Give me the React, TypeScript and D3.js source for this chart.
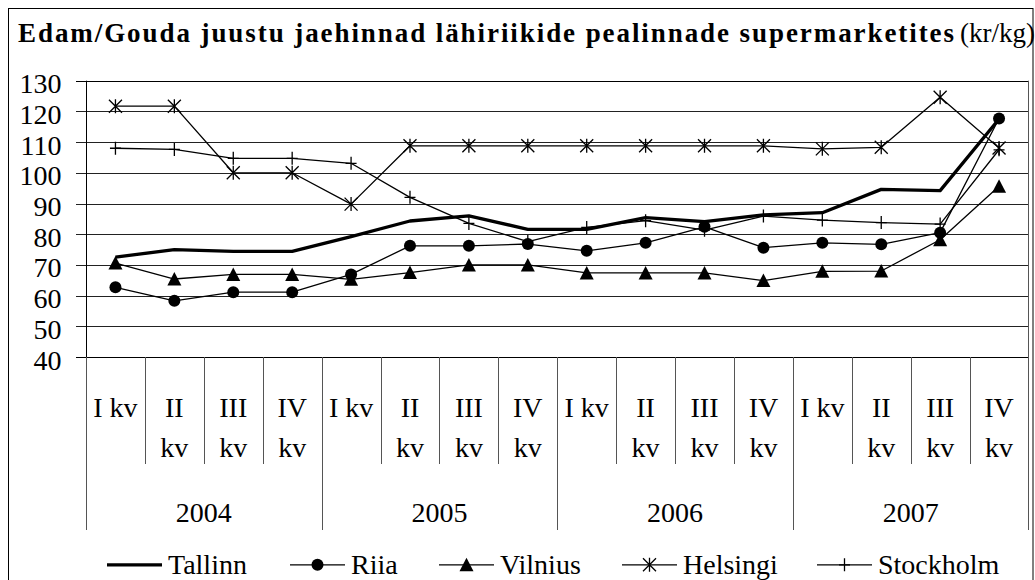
import React from "react";
import * as d3 from "d3";

const categoriesLine1 = ["I kv", "II", "III", "IV", "I kv", "II", "III", "IV", "I kv", "II", "III", "IV", "I kv", "II", "III", "IV"];
const categoriesLine2 = ["", "kv", "kv", "kv", "", "kv", "kv", "kv", "", "kv", "kv", "kv", "", "kv", "kv", "kv"];
const years = ["2004", "2005", "2006", "2007"];
const yTicks = [40, 50, 60, 70, 80, 90, 100, 110, 120, 130];

const tallinn = [72.5, 75.0, 74.4, 74.4, 79.2, 84.3, 86.0, 81.6, 81.6, 85.4, 84.1, 86.3, 87.0, 94.6, 94.2, 117.5];
const riia = [62.7, 58.3, 61.1, 61.1, 66.9, 76.2, 76.2, 76.8, 74.6, 77.2, 82.4, 75.6, 77.2, 76.7, 80.5, 117.7];
const vilnius = [70.6, 65.4, 66.9, 66.9, 65.3, 67.5, 70.0, 70.0, 67.4, 67.4, 67.4, 64.9, 67.9, 68.0, 78.2, 95.6];
const helsingi = [121.7, 121.7, 100.0, 100.0, 89.8, 108.8, 108.8, 108.8, 108.8, 108.8, 108.8, 108.8, 107.8, 108.3, 124.6, 108.1];
const stockholm = [108.0, 107.6, 104.7, 104.7, 103.1, 92.0, 83.5, 77.6, 82.2, 84.4, 81.3, 85.9, 84.6, 83.8, 83.3, 107.5];

const seriesNames = ["Tallinn", "Riia", "Vilnius", "Helsingi", "Stockholm"];
const seriesValues = [tallinn, riia, vilnius, helsingi, stockholm];
const markerKinds = ["none", "circle", "triangle", "star", "plus"];
const legendX = [107, 290, 439, 622, 817];

const FONT = "'Liberation Serif', 'Times New Roman', serif";

function Marker({ kind, x, y }: { kind: string; x: number; y: number }) {
  if (kind === "circle") return <circle cx={x} cy={y} r={6} fill="#000" />;
  if (kind === "triangle") {
    const s = 7;
    return <path d={`M${x},${y - s}L${x + s},${y + s - 0.5}L${x - s},${y + s - 0.5}Z`} fill="#000" />;
  }
  if (kind === "star") {
    const s = 6.5;
    return (
      <path
        d={`M${x - s},${y - s}L${x + s},${y + s}M${x - s},${y + s}L${x + s},${y - s}M${x},${y - s - 0.5}L${x},${y + s + 0.5}`}
        stroke="#000"
        strokeWidth={1.3}
        fill="none"
      />
    );
  }
  if (kind === "plus") {
    const s = 6.5;
    return (
      <path d={`M${x - s + 1},${y}L${x + s - 1},${y}M${x},${y - s}L${x},${y + s}`} stroke="#000" strokeWidth={1.3} fill="none" />
    );
  }
  return null;
}

export default function App() {
  const W = 1035;
  const H = 580;
  const left = 86;
  const right = 1028.5;
  const top = 80.7;
  const bottom = 357;

  const x = d3.scaleBand<number>().domain(d3.range(16)).range([left, right]).padding(0);
  const bw = x.bandwidth();
  const cx = (i: number) => (x(i) as number) + bw / 2;
  const y = d3.scaleLinear().domain([40, 130]).range([bottom, top]);

  const line = d3
    .line<number>()
    .x((_, i) => cx(i))
    .y((v) => y(v));

  const legendLineY = 564.8;
  const legendTextY = 573.8;

  return (
    <svg
      width={W}
      height={H}
      style={{ position: "absolute", left: 0, top: 0, background: "#fff" }}
      fontFamily={FONT}
    >
      <rect x={0} y={0} width={W} height={H} fill="#fff" />
      <rect x={8.5} y={8.5} width={1024.5} height={600} fill="none" stroke="#000" strokeWidth={1} />

      {/* title */}
      <text x={18} y={41.7} fontSize={27} fontWeight="bold" textLength={936} lengthAdjust="spacing">
        Edam/Gouda juustu jaehinnad lähiriikide pealinnade supermarketites
      </text>
      <text x={960} y={41.7} fontSize={27}>
        (kr/kg)
      </text>

      {/* gridlines + y ticks */}
      {yTicks.map((t) => (
        <line
          key={t}
          x1={76}
          x2={right}
          y1={Math.round(y(t)) + 0.5}
          y2={Math.round(y(t)) + 0.5}
          stroke={t === 40 || t === 130 ? "#000" : "#222"}
          strokeWidth={1}
        />
      ))}
      {yTicks.map((t) => (
        <text key={"l" + t} x={61.5} y={y(t) + 12.5} fontSize={28} textAnchor="end">
          {t}
        </text>
      ))}

      {/* y axis and right border */}
      <line x1={left + 0.5} x2={left + 0.5} y1={top} y2={bottom} stroke="#000" />
      <line x1={left + 0.5} x2={left + 0.5} y1={bottom} y2={530} stroke="#555" />
      <line x1={right} x2={right} y1={top} y2={530} stroke="#555" />

      {/* category dividers */}
      {d3.range(1, 16).map((i) => (
        <line
          key={"d" + i}
          x1={Math.round(x(i) as number) + 0.5}
          x2={Math.round(x(i) as number) + 0.5}
          y1={bottom}
          y2={i % 4 === 0 ? 530 : 464}
          stroke="#555"
        />
      ))}

      {/* category labels */}
      {categoriesLine1.map((c, i) => (
        <text key={"c1" + i} x={cx(i)} y={417.3} fontSize={28} textAnchor="middle">
          {c}
        </text>
      ))}
      {categoriesLine2.map((c, i) => (
        <text key={"c2" + i} x={cx(i)} y={457.3} fontSize={28} textAnchor="middle">
          {c}
        </text>
      ))}
      {years.map((yr, j) => (
        <text
          key={yr}
          x={((x(j * 4) as number) + (x(j * 4 + 3) as number) + bw) / 2}
          y={521.7}
          fontSize={28}
          textAnchor="middle"
        >
          {yr}
        </text>
      ))}

      {/* series lines */}
      {seriesValues.map((vals, s) => (
        <path
          key={"s" + s}
          d={line(vals) || ""}
          fill="none"
          stroke="#000"
          strokeWidth={s === 0 ? 3.3 : 1.3}
          strokeLinejoin="round"
        />
      ))}
      {seriesValues.map((vals, s) =>
        vals.map((v, i) => <Marker key={`m${s}-${i}`} kind={markerKinds[s]} x={cx(i)} y={y(v)} />)
      )}

      {/* legend */}
      {seriesNames.map((n, s) => (
        <g key={n}>
          <line x1={legendX[s]} x2={legendX[s] + 55} y1={legendLineY} y2={legendLineY} stroke="#000" strokeWidth={s === 0 ? 3.3 : 1.3} />
          <Marker kind={markerKinds[s]} x={legendX[s] + 27.5} y={legendLineY} />
          <text x={legendX[s] + 61} y={legendTextY} fontSize={28}>
            {n}
          </text>
        </g>
      ))}
    </svg>
  );
}
